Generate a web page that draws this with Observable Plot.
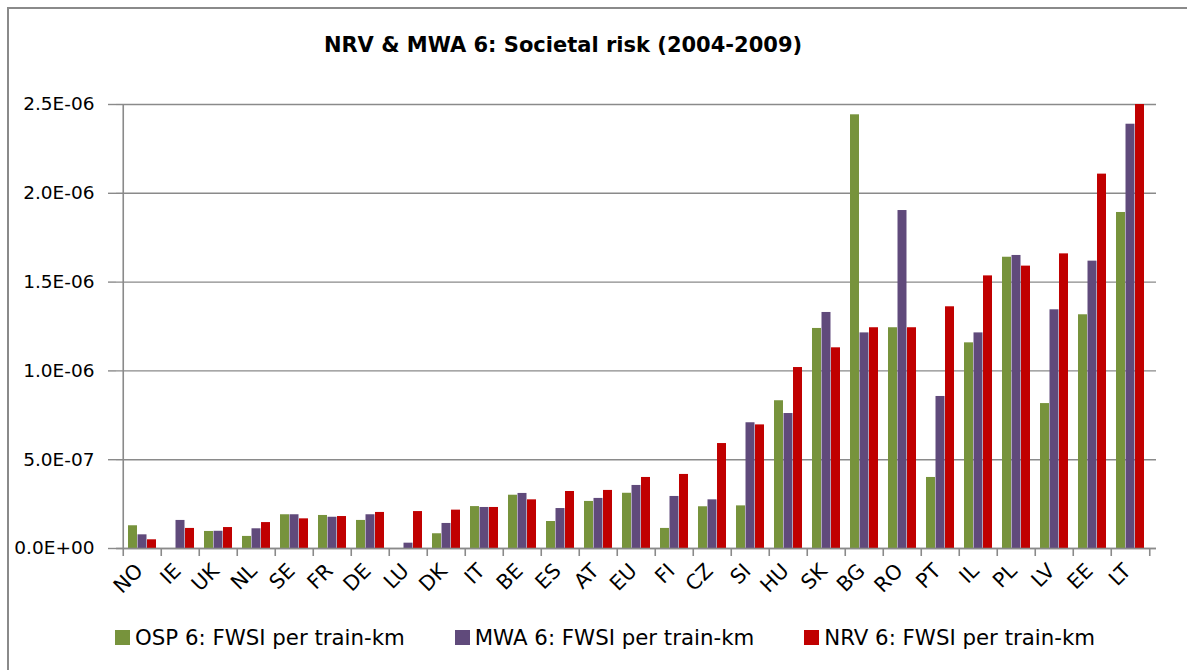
<!DOCTYPE html>
<html>
<head>
<meta charset="utf-8">
<script src="https://cdn.jsdelivr.net/npm/d3@7"></script>
<script src="https://cdn.jsdelivr.net/npm/@observablehq/plot@0.6"></script>
<style>
  html, body { margin: 0; padding: 0; background: #fff; }
  #wrap { position: relative; width: 1187px; height: 670px; overflow: hidden; font-family: "DejaVu Sans", sans-serif; }
  #frame { position: absolute; left: 7px; top: 7px; width: 1300px; height: 800px; border-left: 2px solid #8a8a8a; border-top: 2px solid #8a8a8a; pointer-events: none; }
  #title { height: 90px; position: relative; }
  #title span { position: absolute; left: 0; width: 1126px; text-align: center; top: 33px; font-weight: bold; font-size: 21px; line-height: 24px; color: #000; }
  #legend { display: flex; gap: 50px; padding-left: 115px; height: 74px; align-items: center; font-size: 21.3px; color: #000; }
  #legend .item { display: flex; align-items: center; gap: 5px; }
  #legend .sw { width: 15px; height: 15px; display: inline-block; }
  svg { display: block; }
</style>
</head>
<body>
<div id="wrap">
  <div id="frame"></div>
  <div id="title"><span>NRV &amp; MWA 6: Societal risk (2004-2009)</span></div>
  <div id="chart"></div>
  <div id="legend"></div>
</div>
<script>
// Values in units of 1E-06 FWSI per train-km
const countries = ["NO","IE","UK","NL","SE","FR","DE","LU","DK","IT","BE","ES","AT","EU","FI","CZ","SI","HU","SK","BG","RO","PT","IL","PL","LV","EE","LT"];
const osp = [0.128,0,0.096,0.068,0.19,0.186,0.158,0,0.083,0.236,0.30,0.152,0.265,0.311,0.113,0.235,0.24,0.832,1.239,2.442,1.243,0.40,1.158,1.64,0.816,1.316,1.892];
const mwa = [0.077,0.158,0.097,0.111,0.19,0.176,0.19,0.03,0.141,0.231,0.31,0.225,0.282,0.355,0.293,0.274,0.708,0.76,1.329,1.214,1.903,0.856,1.214,1.65,1.344,1.618,2.389];
const nrv = [0.049,0.113,0.118,0.146,0.167,0.18,0.203,0.208,0.216,0.231,0.274,0.321,0.327,0.40,0.417,0.591,0.696,1.019,1.13,1.243,1.243,1.361,1.535,1.59,1.659,2.108,2.5];
const seriesNames = ["OSP 6: FWSI per train-km","MWA 6: FWSI per train-km","NRV 6: FWSI per train-km"];
const seriesColors = ["#77933C","#604A7B","#C00000"];
const yTickValues = [0,0.5,1.0,1.5,2.0,2.5];
const unit = 1e-6;

const table = countries.map((c, i) => ({country: c, osp: osp[i] * unit, mwa: mwa[i] * unit, nrv: nrv[i] * unit}));
const yTicks = yTickValues.map(v => v * unit);

const W = 1187, mL = 116, mR = 31;
const bw = (W - mL - mR) / countries.length;
const pad = 5;
const barW = (bw - 2 * pad) / 3;

const f1 = d3.format(".1e");
const sci = d => {
  const s = f1(d);
  const m = s.match(/^(-?[\d.]+)e([+-])(\d+)$/);
  if (!m) return s;
  return m[1] + "E" + m[2] + m[3].padStart(2, "0");
};

const gray = "#8a8a8a";
const keys = ["osp","mwa","nrv"];
const font = "'DejaVu Sans', sans-serif";

const plot = Plot.plot({
  width: W,
  height: 510,
  marginTop: 14,
  marginBottom: 52,
  marginLeft: mL,
  marginRight: mR,
  style: {fontFamily: font, fontSize: "18px", color: "#000", background: "transparent", overflow: "visible"},
  x: {type: "band", domain: countries, padding: 0, label: null, axis: null},
  y: {domain: [0, 2.5e-6], label: null, axis: null},
  marks: [
    Plot.ruleY(yTicks, {stroke: gray, strokeWidth: 1.4}),
    ...keys.map((k, j) => Plot.barY(table, {
      x: "country",
      y: k,
      fill: seriesColors[j],
      insetLeft: pad + j * barW,
      insetRight: pad + (2 - j) * barW
    })),
    Plot.ruleY([0], {stroke: gray, strokeWidth: 1.6}),
    Plot.ruleX([countries[0]], {dx: -bw / 2, stroke: gray, strokeWidth: 1.6}),
    Plot.axisY({ticks: yTicks, tickSize: 8, tickPadding: 14, tickFormat: sci, stroke: gray, strokeWidth: 1.4, label: null, fontSize: 18.5, fontFamily: font}),
    Plot.axisX({tickSize: 0, tickRotate: -45, tickPadding: 19, dx: -3, label: null, fontSize: 20.5, fontFamily: font}),
    Plot.axisX({tickSize: 8, text: null, dx: -bw / 2, stroke: gray, strokeWidth: 1.6, label: null}),
    Plot.axisX({ticks: [countries[countries.length - 1]], tickSize: 8, text: null, dx: bw / 2, stroke: gray, strokeWidth: 1.6, label: null})
  ]
});
document.getElementById("chart").appendChild(plot);

const legend = document.getElementById("legend");
seriesNames.forEach((n, j) => {
  const it = document.createElement("div");
  it.className = "item";
  const sw = document.createElement("span");
  sw.className = "sw";
  sw.style.background = seriesColors[j];
  const tx = document.createElement("span");
  tx.textContent = n;
  it.appendChild(sw);
  it.appendChild(tx);
  legend.appendChild(it);
});
</script>
</body>
</html>
